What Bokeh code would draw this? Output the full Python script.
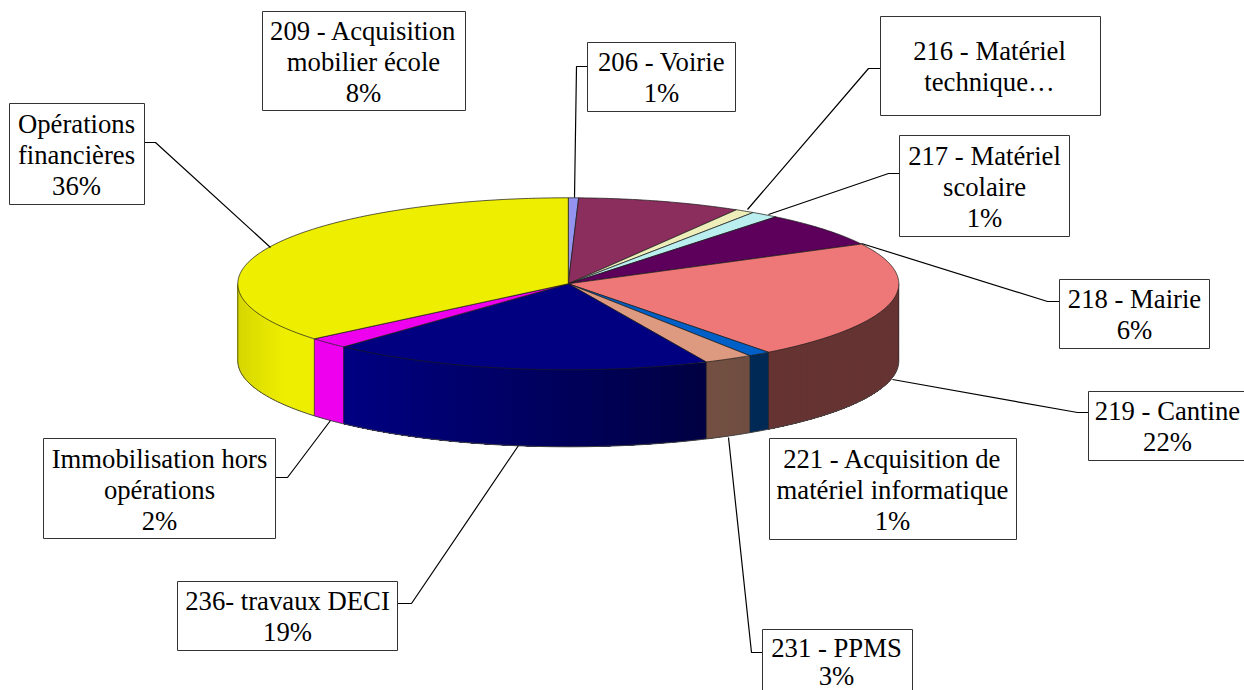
import numpy as np
from bokeh.plotting import figure
from bokeh.models import Range1d
from bokeh.core.properties import value
from bokeh.embed import file_html
from bokeh.resources import INLINE

# ---- data (clockwise from 12 o'clock)
categories = ["206 - Voirie", "209 - Acquisition mobilier école", "216 - Matériel technique…",
              "217 - Matériel scolaire", "218 - Mairie", "219 - Cantine",
              "221 - Acquisition de matériel informatique", "231 - PPMS", "236- travaux DECI",
              "Immobilisation hors opérations", "Opérations financières"]
shares = [0.5, 8.0, 0.95, 1.35, 6.55, 22.3, 1.1, 2.4, 18.75, 2.05, 36.05]
colors = ["#9494F0", "#8B2E5E", "#EEEEBB", "#BBEEEE", "#5C005C", "#EE7777",
          "#0060C8", "#DE9A80", "#000080", "#EE00EE", "#EEEE00"]

label_lines = [["206 - Voirie", "1%"],
               ["209 - Acquisition", "mobilier école", "8%"],
               ["216 - Matériel", "technique…"],
               ["217 - Matériel", "scolaire", "1%"],
               ["218 - Mairie", "6%"],
               ["219 - Cantine", "22%"],
               ["221 - Acquisition de", "matériel informatique", "1%"],
               ["231 - PPMS", "3%"],
               ["236- travaux DECI", "19%"],
               ["Immobilisation hors", "opérations", "2%"],
               ["Opérations", "financières", "36%"]]

# ---- layout (page pixels): label box (left, right, top, bottom) and leader polyline
boxes = [(587, 735, 42, 111), (262, 465, 11, 110), (880, 1100, 16, 115), (899, 1069, 135, 236),
         (1059, 1209, 279, 348), (1088, 1250, 391, 460), (769, 1016, 438, 539), (762, 912, 629, 696),
         (177, 397, 581, 650), (43, 275, 438, 538), (9, 144, 103, 204)]
text_centres = [661, 363, 989, 984, 1134, 1167, 892, 836, 287, 159, 76]
# y of the first text line and the line pitch come from the box, except where the page edge is close
line_pitch = [31, 31, 31, 31, 31, 31, 31, 28, 31, 31, 31]
text_mid = [76.5, 61.5, 66, 186, 314, 426, 489.5, 661, 616, 489, 154]
leaders = [[(587, 66), (576, 66), (574, 197)], None, [(880, 68), (868, 68), (747, 209)],
           [(899, 173), (888, 173), (768, 214)], [(1059, 301), (1047, 301), (861, 243)],
           [(1088, 412), (1077, 412), (892, 379)], None, [(762, 652), (751, 652), (728, 437)],
           [(397, 603), (411, 603), (518, 445)], [(275, 477), (287, 477), (330, 420)],
           [(144, 142), (155, 142), (270, 247)]]
CX, CY, RX, RY, DEPTH = 567.8, 283.3, 330.5, 86.0, 77.0
FONT = value("Liberation Serif")
FS = "26.7px"

W, H = 1244, 690
p = figure(width=W, height=H, output_backend="svg", toolbar_location=None,
           x_range=Range1d(0, W), y_range=Range1d(H, 0), min_border=0,
           outline_line_color=None, background_fill_color="white", border_fill_color="white")
p.axis.visible = False
p.grid.visible = False


def px(t):
    return CX + RX * np.sin(t)


def py(t):
    return CY - RY * np.cos(t)


def hex_scale(c, f):
    rgb = [int(c[i:i + 2], 16) for i in (1, 3, 5)]
    return "#%02x%02x%02x" % tuple(int(round(min(255, v * f))) for v in rgb)


def shade(t):
    x = np.sin(t)
    return float(np.interp(x, [-1.0, -0.86, -0.65, 0.4, 0.549, 0.5491, 1.0],
                           [0.90, 1.0, 1.0, 0.52, 0.5, 0.43, 0.43]))


edges = np.cumsum([0] + shares) / sum(shares) * 2 * np.pi

# side wall (front half only), painted as overlapping bands so no seams show
sx, sy, sc = [], [], []
for i, c in enumerate(colors):
    a, b = max(edges[i], np.pi / 2), min(edges[i + 1], 1.5 * np.pi)
    if b <= a:
        continue
    n = max(1, int((b - a) / 0.025))
    ts = np.linspace(a, b, n + 1)
    for t0, t1 in zip(ts[:-1], ts[1:]):
        arc = np.linspace(t0, b, max(2, int((b - t0) / 0.01)))
        sx.append(list(px(arc)) + list(px(arc))[::-1])
        sy.append(list(py(arc)) + list(py(arc) + DEPTH)[::-1])
        sc.append(hex_scale(c, shade((t0 + t1) / 2)))
p.patches(sx, sy, fill_color=sc, line_color=None)

# wall separators
for e in list(edges) + [np.pi / 2, 1.5 * np.pi]:
    if np.pi / 2 <= e <= 1.5 * np.pi:
        p.line([px(e), px(e)], [py(e), py(e) + DEPTH], line_color="#222222", line_width=0.8, line_alpha=0.85)
tb = np.linspace(np.pi / 2, 1.5 * np.pi, 300)
p.line(px(tb), py(tb) + DEPTH, line_color="#444444", line_width=1)

# top face
tx, ty = [], []
for i in range(len(shares)):
    ts = np.linspace(edges[i], edges[i + 1], max(3, int((edges[i + 1] - edges[i]) / 0.01)))
    tx.append([CX] + list(px(ts)))
    ty.append([CY] + list(py(ts)))
p.patches(tx, ty, fill_color=colors, line_color="#1a1a1a", line_width=0.8, line_alpha=0.9)

# leaders
for pts in leaders:
    if pts:
        p.line([q[0] for q in pts], [q[1] for q in pts], line_color="#000000", line_width=1.2)

# label boxes and texts
p.quad(left=[b[0] for b in boxes], right=[b[1] for b in boxes],
       top=[b[2] for b in boxes], bottom=[b[3] for b in boxes],
       fill_color="white", line_color="#333333", line_width=1)
txt_x, txt_y, txt = [], [], []
for xm, ym, pitch, lines in zip(text_centres, text_mid, line_pitch, label_lines):
    for k, s in enumerate(lines):
        txt_x.append(xm)
        txt_y.append(ym + (k - (len(lines) - 1) / 2) * pitch)
        txt.append(s)
p.text(txt_x, txt_y, text=txt, text_font=FONT, text_font_size=FS, text_align="center",
       text_baseline="middle", text_color="#000000")

open("out.html", "w").write(file_html(p, INLINE))
